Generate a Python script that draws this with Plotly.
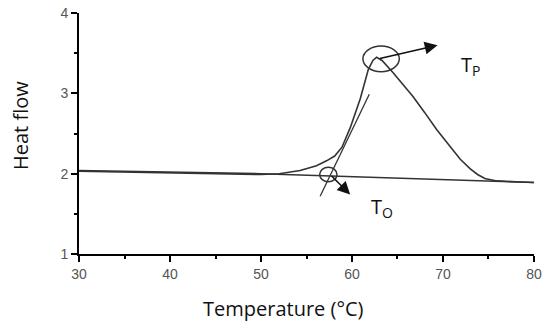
import plotly.graph_objects as go

# ---- data ----
temperature = [30, 35, 40, 45, 50, 52, 54.3, 56.1, 57.2, 58.1, 58.9, 59.8, 60.9, 61.8,
               62.3, 62.7, 63.3, 64.5, 65.5, 66.7, 68.0, 69.3, 70.5, 71.9, 73.0,
               73.8, 74.6, 75.9, 78.0, 80.0]
heat_flow = [2.03, 2.02, 2.01, 2.0, 1.99, 2.0, 2.04, 2.1, 2.16, 2.22, 2.33, 2.57, 2.93, 3.3,
             3.41, 3.45, 3.41, 3.26, 3.12, 2.96, 2.76, 2.55, 2.38, 2.18, 2.06,
             1.99, 1.94, 1.91, 1.90, 1.89]

baseline_t = [30, 50, 80]
baseline_v = [2.04, 2.0, 1.89]

tangent_t = [56.5, 61.9]
tangent_v = [1.72, 2.99]

peak_t, peak_v = 63.2, 3.43      # T_P marker
onset_t, onset_v = 57.4, 1.99    # T_O marker

x_ticks = [30, 40, 50, 60, 70, 80]
y_ticks = [1, 2, 3, 4]

LINE = "#333333"

# page body has an 8px default margin; size the figure so the plot lands where wanted
OFF = 8
W, H = 550 - OFF, 334 - OFF
L, R, T, B = 79 - OFF, 16, 13 - OFF, 80
pw, ph = W - L - R, H - T - B


def px_to_paper(sx, sy):
    """screen pixel -> paper coordinates"""
    return (sx - OFF - L) / pw, (H - B - (sy - OFF)) / ph


fig = go.Figure()
fig.add_trace(go.Scatter(x=baseline_t, y=baseline_v, mode="lines",
                         line=dict(color=LINE, width=1.5), hoverinfo="skip"))
fig.add_trace(go.Scatter(x=temperature, y=heat_flow, mode="lines",
                         line=dict(color=LINE, width=1.6), hoverinfo="skip"))
fig.add_trace(go.Scatter(x=tangent_t, y=tangent_v, mode="lines",
                         line=dict(color=LINE, width=1.3), hoverinfo="skip"))

# ellipses around peak and onset
fig.add_shape(type="circle", xref="x", yref="y",
              x0=peak_t - 2.0, x1=peak_t + 2.0, y0=peak_v - 0.16, y1=peak_v + 0.16,
              line=dict(color=LINE, width=1.5))
fig.add_shape(type="circle", xref="x", yref="y",
              x0=onset_t - 0.95, x1=onset_t + 0.95, y0=onset_v - 0.09, y1=onset_v + 0.09,
              line=dict(color=LINE, width=1.5))

# arrows
fig.add_annotation(x=69.4, y=3.60, ax=peak_t - 0.3, ay=peak_v, xref="x", yref="y",
                   axref="x", ayref="y", text="", showarrow=True, arrowhead=2,
                   arrowsize=1.6, arrowwidth=1.6, arrowcolor="#111", standoff=0)
fig.add_annotation(x=59.8, y=1.74, ax=onset_t + 0.2, ay=onset_v, xref="x", yref="y",
                   axref="x", ayref="y", text="", showarrow=True, arrowhead=2,
                   arrowsize=1.6, arrowwidth=1.6, arrowcolor="#111", standoff=0)

# labels
fig.add_annotation(x=73.0, y=3.35, xref="x", yref="y", text="T<sub>P</sub>",
                   xanchor="center", yanchor="middle",
                   showarrow=False, font=dict(family="Open Sans", size=20, color="#111"))
fig.add_annotation(x=63.3, y=1.58, xref="x", yref="y", text="T<sub>O</sub>",
                   xanchor="center", yanchor="middle",
                   showarrow=False, font=dict(family="Open Sans", size=20, color="#111"))

# axis titles (screen pixel positions converted to paper coordinates)
tx, ty = px_to_paper(283, 308)
fig.add_annotation(x=tx, y=ty, xref="paper", yref="paper", text="Temperature (°C)",
                   xanchor="center", yanchor="middle", showarrow=False,
                   font=dict(family="Open Sans", size=20, color="#111"))
hx, hy = px_to_paper(20, 125)
fig.add_annotation(x=hx, y=hy, xref="paper", yref="paper", text="Heat flow",
                   xanchor="center", yanchor="middle", textangle=-90, showarrow=False,
                   font=dict(family="Open Sans", size=20, color="#111"))

axis_common = dict(showline=True, linecolor="black", linewidth=2, ticks="outside",
                   tickwidth=2, ticklen=6, tickcolor="black", showgrid=False, zeroline=False,
                   tickfont=dict(family="Arial", size=14, color="#555"),
                   mirror=False, automargin=False, ticklabeloverflow="allow")

fig.update_layout(
    width=W, height=H, margin=dict(l=L, r=R, t=T, b=B, autoexpand=False),
    plot_bgcolor="white", paper_bgcolor="white", showlegend=False,
    xaxis=dict(range=[30, 80.001], tickvals=x_ticks, ticktext=[str(v) for v in x_ticks],
               minor=dict(dtick=5, tick0=30, ticks="outside", ticklen=3, tickwidth=2,
                          tickcolor="black", showgrid=False), **axis_common),
    yaxis=dict(range=[1, 4.001], tickvals=y_ticks, ticktext=[str(v) for v in y_ticks],
               minor=dict(dtick=0.5, tick0=1, ticks="outside", ticklen=3, tickwidth=2,
                          tickcolor="black", showgrid=False), **axis_common),
)

fig.write_html("out.html")
